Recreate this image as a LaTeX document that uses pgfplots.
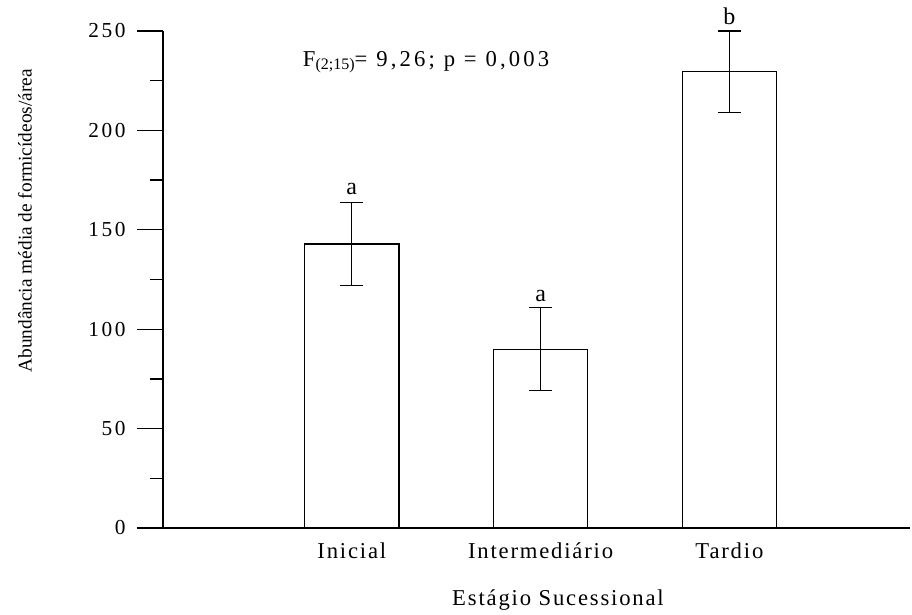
\documentclass[border=0pt]{standalone}
\usepackage{pgfplots}
\pgfplotsset{compat=1.18}
\usepackage{fontspec}
\setmainfont{Liberation Serif}
\begin{document}
\begin{tikzpicture}
\path[use as bounding box] (-122.25pt,-64.5pt) rectangle (561.75pt,396pt);
\begin{axis}[
  at={(0,0)}, anchor=south west,
  scale only axis, width=560pt, height=372.75pt,
  xmin=-1, xmax=2.955, ymin=0, ymax=250,
  axis x line=bottom, axis y line=left,
  axis line style={-, line width=1pt, black},
  ytick={0,50,...,250}, minor y tick num=1,
  tick align=outside,
  major tick length=19.5pt, minor tick length=9.75pt,
  tick style={line width=1pt, black},
  xtick={0,1,2}, xticklabels={Inicial, Intermediário, Tardio},
  xtick style={draw=none},
  /pgf/number format/assume math mode=true,
  yticklabel style={font=\fontsize{16}{18}\selectfont\addfontfeature{LetterSpace=12}, xshift=-5pt},
  xticklabel style={font=\fontsize{17}{19}\selectfont\addfontfeature{LetterSpace=8}, yshift=12pt},
  ylabel={Abundância média de formicídeos/área},
  ylabel style={font=\fontsize{14.5}{16}\selectfont, at={(axis description cs:-0.185,0.618)}, anchor=center},
  xlabel={Estágio Sucessional},
  xlabel style={font=\fontsize{17}{19}\selectfont\addfontfeature{LetterSpace=8}, at={(axis description cs:0.529,-0.145)}, anchor=center},
  ybar, bar width=0.5,
  clip=false,
]
\addplot[draw=black, fill=white, line width=1pt,
  error bars/.cd, y dir=both, y explicit,
  error bar style={line width=1pt, black},
  error mark options={rotate=90, mark size=8.6pt, line width=1pt, black}]
 table[x=x, y=y, y error=e] {
 x y e
 0 142.9 20.9
 1 89.9 20.9
 2 229.5 20.5
 };
\node[anchor=base, font=\fontsize{18}{20}\selectfont] at (axis cs:0,168) {a};
\node[anchor=base, font=\fontsize{18}{20}\selectfont] at (axis cs:1,113.8) {a};
\node[anchor=base, font=\fontsize{18}{20}\selectfont] at (axis cs:2,253.5) {b};
\node[anchor=base west, inner sep=0pt, font=\fontsize{17}{19}\selectfont] at (axis cs:-0.26,232)
  {F\raisebox{-0.3ex}{\fontsize{12}{14}\selectfont(2;15)}{\addfontfeature{LetterSpace=14}= 9,26; p = 0,003}};
\end{axis}
\end{tikzpicture}
\end{document}
